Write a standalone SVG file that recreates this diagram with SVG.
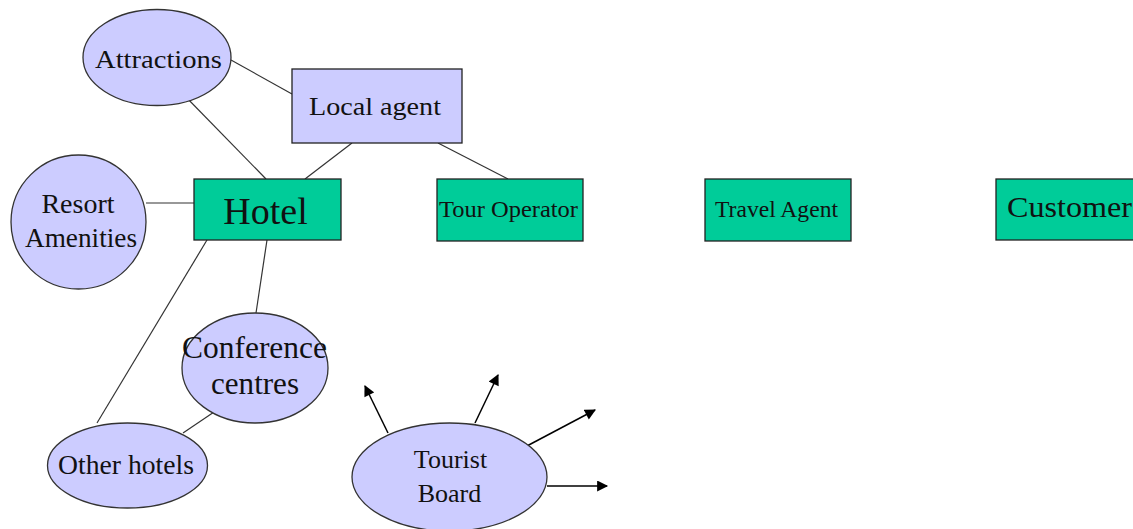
<svg xmlns="http://www.w3.org/2000/svg" width="1133" height="529" viewBox="0 0 1133 529">
<style>
.ell{fill:#CCCCFF;stroke:#333;stroke-width:1.3}
.box{fill:#00CC99;stroke:#222;stroke-width:1.3}
.lbox{fill:#CCCCFF;stroke:#222;stroke-width:1.3}
.t{font-family:"Liberation Serif","Times New Roman",serif;fill:#111;text-anchor:middle}
.ln{stroke:#333;stroke-width:1.2;fill:none}
.ar{stroke:#000;stroke-width:1.5;fill:none;marker-end:url(#ah)}
</style>
<defs>
<marker id="ah" viewBox="0 0 10 10" refX="9" refY="5" markerWidth="12" markerHeight="11" markerUnits="userSpaceOnUse" orient="auto"><path d="M0,0 L10,5 L0,10 z" fill="#000"/></marker>
</defs>
<rect width="1133" height="529" fill="#fff"/>
<g id="connectors">
<line class="ln" x1="231" y1="60" x2="292" y2="94"/>
<line class="ln" x1="183" y1="94" x2="266" y2="179"/>
<line class="ln" x1="352" y1="143" x2="305" y2="179"/>
<line class="ln" x1="438" y1="143" x2="508" y2="179"/>
<line class="ln" x1="146" y1="203" x2="194" y2="203"/>
<line class="ln" x1="207" y1="240" x2="97" y2="423"/>
<line class="ln" x1="267" y1="240" x2="256" y2="313"/>
<line class="ln" x1="217" y1="410" x2="183" y2="433"/>
<line class="ar" x1="388" y1="433" x2="365" y2="386"/>
<line class="ar" x1="475" y1="423" x2="498" y2="375"/>
<line class="ar" x1="525" y1="447" x2="595" y2="410"/>
<line class="ar" x1="547" y1="486" x2="607" y2="486"/>
</g>
<g id="attractions"><ellipse class="ell" cx="157" cy="57.5" rx="74" ry="48"/><text class="t" x="158.5" y="68" font-size="26" textLength="127" lengthAdjust="spacingAndGlyphs">Attractions</text></g>
<g id="local-agent"><rect class="lbox" x="292" y="69" width="170" height="74"/><text class="t" x="375" y="115" font-size="26" textLength="132" lengthAdjust="spacingAndGlyphs">Local agent</text></g>
<g id="resort"><ellipse class="ell" cx="78.5" cy="222" rx="67.5" ry="67"/><text class="t" x="78" y="213" font-size="28">Resort</text><text class="t" x="81" y="247" font-size="28" textLength="112" lengthAdjust="spacingAndGlyphs">Amenities</text></g>
<g id="hotel"><rect class="box" x="194" y="179" width="147" height="61"/><text class="t" x="265.5" y="224" font-size="38">Hotel</text></g>
<g id="tour-operator"><rect class="box" x="437" y="179" width="146" height="62"/><text class="t" x="508.5" y="217" font-size="23" textLength="139" lengthAdjust="spacingAndGlyphs">Tour Operator</text></g>
<g id="travel-agent"><rect class="box" x="705" y="179" width="146" height="62"/><text class="t" x="776.5" y="217" font-size="23" textLength="123" lengthAdjust="spacingAndGlyphs">Travel Agent</text></g>
<g id="customer"><rect class="box" x="996" y="179" width="146" height="61"/><text class="t" x="1069.5" y="217" font-size="29" textLength="125" lengthAdjust="spacingAndGlyphs">Customer</text></g>
<g id="conference"><ellipse class="ell" cx="255" cy="368" rx="73" ry="55"/><text class="t" x="254.5" y="358" font-size="32" textLength="145" lengthAdjust="spacingAndGlyphs">Conference</text><text class="t" x="255" y="394" font-size="32" textLength="88" lengthAdjust="spacingAndGlyphs">centres</text></g>
<g id="other-hotels"><ellipse class="ell" cx="127.5" cy="465.5" rx="80" ry="42.5"/><text class="t" x="126" y="474" font-size="27" textLength="136" lengthAdjust="spacingAndGlyphs">Other hotels</text></g>
<g id="tourist-board"><ellipse class="ell" cx="449.5" cy="477" rx="97.5" ry="54"/><text class="t" x="450.5" y="468" font-size="26">Tourist</text><text class="t" x="449.5" y="502" font-size="26">Board</text></g>
</svg>
